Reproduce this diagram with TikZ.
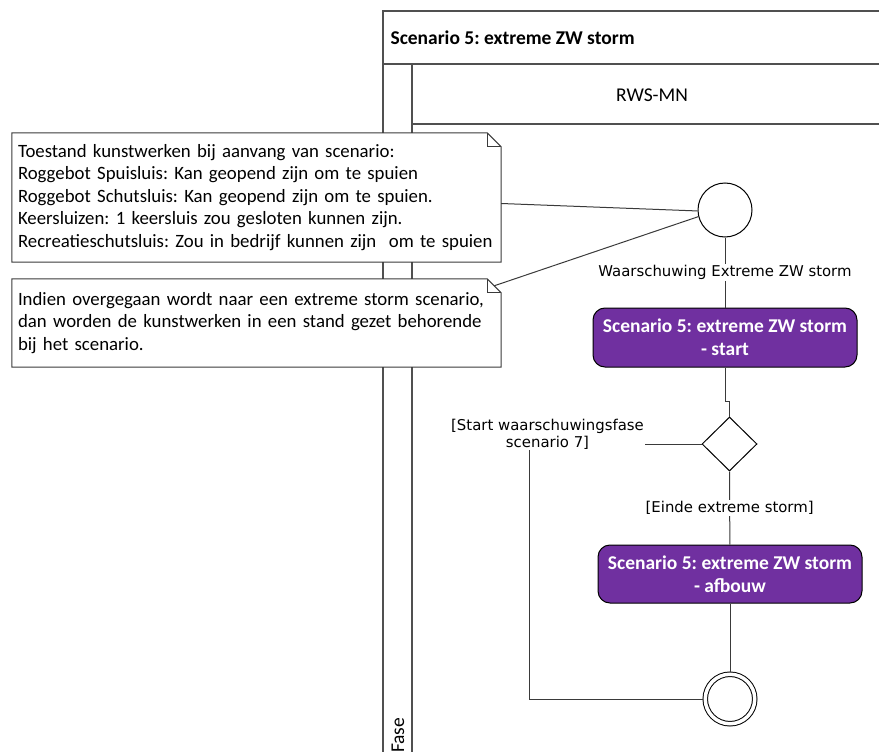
\documentclass[tikz,border=0pt]{standalone}
\usepackage{fontspec}
\setmainfont{Carlito}
\newfontfamily\guardfont{DejaVu Sans}
\usetikzlibrary{arrows.meta,positioning,shapes.geometric,calc}
\definecolor{ActPurple}{HTML}{7030A0}
\definecolor{LineGrey}{HTML}{3A3A3A}
\definecolor{PoolGrey}{HTML}{505050}
\frenchspacing
\tikzset{
  poolline/.style={draw=PoolGrey,line width=1.2pt},
  notenode/.style={draw=none,fill=white,text width=477pt,inner xsep=6pt,inner ysep=0pt,align=left,font=\fontsize{18.8}{22.5}\selectfont},
  noteline/.style={draw=LineGrey,line width=1pt},
  actnode/.style={draw=black,fill=ActPurple,text=white,rounded corners=12pt,minimum width=264pt,minimum height=59pt,align=center,font=\bfseries\fontsize{19.5}{23}\selectfont,line width=1pt},
  startnode/.style={circle,draw=black,fill=white,minimum size=54pt,inner sep=0pt,line width=1pt},
  endnode/.style={circle,draw=black,fill=white,minimum size=49.5pt,inner sep=0pt,line width=1pt,double,double distance=3.5pt,outer sep=2.75pt},
  decnode/.style={diamond,draw=black,fill=white,minimum width=55pt,minimum height=54pt,inner sep=0pt,line width=1pt},
  guard/.style={fill=white,inner sep=1pt,align=center,font=\guardfont\fontsize{14.9}{17}\selectfont},
  flow/.style={draw=LineGrey,line width=1pt}
}
\begin{document}
\begin{tikzpicture}[x=1pt,y=-1pt]
\useasboundingbox (0,0) rectangle (879,752);
% pool and lane
\draw[poolline] (879,11) -- (383,11) -- (383,760);
\draw[poolline] (383,64) -- (879,64);
\draw[poolline] (412,64) -- (412,760);
\draw[poolline] (412,124) -- (879,124);
\node[anchor=west,font=\bfseries\fontsize{19.5}{22}\selectfont] (pooltitle) at (387,38) {Scenario 5: extreme ZW storm};
\node[font=\fontsize{19.5}{22}\selectfont] (lanetitle) at (652,95) {RWS-MN};
\node[rotate=90,anchor=west,inner sep=0pt,font=\fontsize{19.5}{22}\selectfont] (fase) at (398,753) {Fase};
% notes
\node[notenode,minimum height=129pt] (toestand) at (256.5,197.5) {Toestand kunstwerken bij aanvang van scenario:\\
Roggebot Spuisluis: Kan geopend zijn om te spuien\\
Roggebot Schutsluis: Kan geopend zijn om te spuien.\\
Keersluizen: 1 keersluis zou gesloten kunnen zijn.\\
Recreatieschutsluis: Zou in bedrijf kunnen zijn\ \ om te spuien};
\node[notenode,minimum height=88pt] (overgang) at (256.5,323) {Indien overgegaan wordt naar een extreme storm scenario,\\
dan worden de kunstwerken in een stand gezet behorende\\
bij het scenario.};
\foreach \n in {toestand,overgang}{
  \draw[noteline] (\n.south west) -- (\n.north west) -- ([xshift=-14pt]\n.north east) -- ([yshift=-14pt]\n.north east) -- (\n.south east) -- cycle;
  \draw[noteline] ([xshift=-14pt]\n.north east) |- ([yshift=-14pt]\n.north east);
}
% activity flow
\node[startnode] (start) at (725,210) {};
\node[actnode] (act1) at (725,337.5) {Scenario 5: extreme ZW storm\\- start};
\node[decnode] (dec) at (729.5,444) {};
\node[actnode,minimum height=58pt] (act2) at (730,574) {Scenario 5: extreme ZW storm\\- afbouw};
\node[endnode] (final) at (730,699) {};
\draw[flow] ([yshift=-6pt]toestand.east) -- (start.182);
\draw[flow] ([xshift=-7pt,yshift=-7pt]overgang.north east) -- (start.194);
\draw[flow] (start) -- node[guard]{Waarschuwing Extreme ZW storm} (act1);
\draw[flow] (act1.south) -- ++(0,34) -| (dec.north);
\draw[flow] (dec.west) -- ++(-172,0) coordinate (bend) |- (final.west);
\node[guard] (guardstart) at ([xshift=18pt,yshift=10pt]bend) {[Start waarschuwingsfase\\scenario 7]};
\draw[flow] (dec.south) -- node[guard]{[Einde extreme storm]} (act2);
\draw[flow] (act2) -- (final);
\end{tikzpicture}
\end{document}
